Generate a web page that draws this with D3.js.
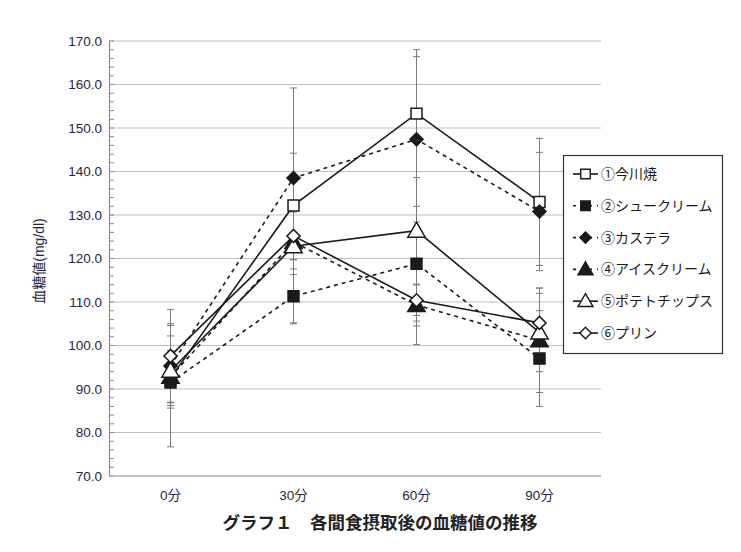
<!DOCTYPE html>
<html><head><meta charset="utf-8">
<script src="https://cdn.jsdelivr.net/npm/d3@7"></script>
<style>body{margin:0;background:#fff}svg{display:block}</style>
</head><body><div id="c"></div>
<script>
const categories = ["0分","30分","60分","90分"];
const seriesNames = ["①今川焼","②シュークリーム","③カステラ","④アイスクリーム","⑤ポテトチップス","⑥プリン"];
const imagawayaki = [92.5, 132.2, 153.3, 133.0];
const creamPuff   = [91.5, 111.3, 118.8, 97.0];
const castella    = [95.3, 138.5, 147.4, 130.8];
const iceCream    = [92.8, 123.8, 109.3, 101.2];
const potatoChips = [94.2, 122.8, 126.4, 103.0];
const pudding     = [97.6, 125.2, 110.4, 105.2];
const imagawayakiErr = [15.8, 27.0, 14.7, 14.6];
const creamPuffErr   = [4.5, 6.3, 13.2, 11.0];
const castellaErr    = [9.7, 5.7, 19.0, 13.6];
const iceCreamErr    = [6.0, 7.5, 4.8, 12.0];
const potatoChipsErr = [8.0, 3.0, 26.2, 9.0];
const puddingErr     = [7.0, 5.5, 3.5, 8.0];
const yTicks = [70,80,90,100,110,120,130,140,150,160,170];

const series = [
  {name: seriesNames[0], v: imagawayaki, e: imagawayakiErr, sym: "square", fill: "#fff", dash: null},
  {name: seriesNames[1], v: creamPuff, e: creamPuffErr, sym: "square", fill: "#1a1a1a", dash: "4,4"},
  {name: seriesNames[2], v: castella, e: castellaErr, sym: "diamond", fill: "#1a1a1a", dash: "4,4"},
  {name: seriesNames[3], v: iceCream, e: iceCreamErr, sym: "triangle", fill: "#1a1a1a", dash: "4,4"},
  {name: seriesNames[4], v: potatoChips, e: potatoChipsErr, sym: "triangle", fill: "#fff", dash: null},
  {name: seriesNames[5], v: pudding, e: puddingErr, sym: "diamond", fill: "#fff", dash: null}
];

const W = 741, H = 552;
const m = {l: 109, r: 140, t: 41, b: 76};
const svg = d3.select("#c").append("svg").attr("width", W).attr("height", H);
const font = "'Liberation Sans', Arial, 'Noto Sans CJK JP', sans-serif";
const textColor = "#1c2740";

const x = d3.scaleBand().domain(categories).range([m.l, 601]);
const y = d3.scaleLinear().domain([70,170]).range([476, 41]);
const cx = c => x(c) + x.bandwidth()/2;

// gridlines
svg.append("g").selectAll("line").data(yTicks.slice(1)).join("line")
  .attr("x1", m.l).attr("x2", 601).attr("y1", d => y(d)).attr("y2", d => y(d))
  .attr("stroke", "#c0c0c0").attr("stroke-width", 1.2);

// y axis
const yAxis = d3.axisLeft(y).tickValues(yTicks).tickFormat(d3.format(".1f")).tickSize(0).tickPadding(7);
const ga = svg.append("g").attr("transform", `translate(${m.l},0)`).call(yAxis);
ga.select(".domain").attr("stroke", "#8a8a8a").attr("stroke-width", 1.2);
ga.selectAll("text").attr("font-family", font).attr("font-size", 13.5).attr("fill", textColor);
// minor ticks
const minor = d3.range(70, 170.01, 2);
svg.append("g").selectAll("line").data(minor).join("line")
  .attr("x1", m.l).attr("x2", m.l + 5).attr("y1", d => y(d)).attr("y2", d => y(d))
  .attr("stroke", "#8a8a8a").attr("stroke-width", 1);

// x axis
svg.append("line").attr("x1", m.l).attr("x2", 601).attr("y1", 476).attr("y2", 476)
  .attr("stroke", "#b0b0b0").attr("stroke-width", 1.5);
const xAxis = d3.axisBottom(x).tickSize(0).tickPadding(14);
const gx = svg.append("g").attr("transform", "translate(0,476)").call(xAxis);
gx.select(".domain").remove();
gx.selectAll("text").attr("font-family", font).attr("font-size", 13.5).attr("fill", textColor);

// error bars
const eg = svg.append("g").attr("stroke", "#7a7a7a").attr("stroke-width", 1);
series.forEach(s => {
  categories.forEach((c, i) => {
    const xx = cx(c), hi = y(s.v[i] + s.e[i]), lo = y(s.v[i] - s.e[i]);
    eg.append("line").attr("x1", xx).attr("x2", xx).attr("y1", hi).attr("y2", lo);
    eg.append("line").attr("x1", xx-3.5).attr("x2", xx+3.5).attr("y1", hi).attr("y2", hi);
    eg.append("line").attr("x1", xx-3.5).attr("x2", xx+3.5).attr("y1", lo).attr("y2", lo);
  });
});

const symType = {square: d3.symbolSquare, diamond: d3.symbolSquare, triangle: d3.symbolTriangle};
const symSize = {square: 120, diamond: 85, triangle: 130};
const symRot = {square: 0, diamond: 45, triangle: 0};
const symDy = {square: 0, diamond: 0, triangle: 1.5};
const line = d3.line().x((d,i) => cx(categories[i])).y(d => y(d));

// lines
series.forEach(s => {
  svg.append("path").datum(s.v).attr("d", line).attr("fill", "none")
    .attr("stroke", "#1a1a1a").attr("stroke-width", 1.6)
    .attr("stroke-dasharray", s.dash);
});
// markers
series.forEach(s => {
  svg.append("g").selectAll("path").data(s.v).join("path")
    .attr("transform", (d,i) => `translate(${cx(categories[i])},${y(d) + symDy[s.sym]}) rotate(${symRot[s.sym]})`)
    .attr("d", d3.symbol().type(symType[s.sym]).size(symSize[s.sym]))
    .attr("fill", s.fill).attr("stroke", "#1a1a1a").attr("stroke-width", 1.5);
});

// y title
svg.append("text").attr("transform", "translate(44,261) rotate(-90)")
  .attr("text-anchor", "middle").attr("font-family", font).attr("font-size", 14)
  .attr("fill", textColor).text("血糖値(mg/dl)");

// chart title
svg.append("text").attr("x", 380).attr("y", 529).attr("text-anchor", "middle")
  .attr("font-family", "'Noto Sans CJK JP', sans-serif").attr("font-weight", "bold").attr("font-size", 17.5)
  .attr("fill", "#222").text("グラフ１　各間食摂取後の血糖値の推移");

// legend
const lg = svg.append("g");
lg.append("rect").attr("x", 563.5).attr("y", 155.5).attr("width", 159).attr("height", 198)
  .attr("fill", "#fff").attr("stroke", "#333").attr("stroke-width", 1.2);
series.forEach((s, i) => {
  const yy = 174 + i * 31.8;
  lg.append("line").attr("x1", 573).attr("x2", 598).attr("y1", yy).attr("y2", yy)
    .attr("stroke", "#1a1a1a").attr("stroke-width", 1.6).attr("stroke-dasharray", s.dash ? "3,5" : null);
  lg.append("path").attr("transform", `translate(585.5,${yy + (s.sym==="triangle"?1:0)}) rotate(${symRot[s.sym]})`)
    .attr("d", d3.symbol().type(symType[s.sym]).size(symSize[s.sym]*0.75))
    .attr("fill", s.fill).attr("stroke", "#1a1a1a").attr("stroke-width", 1.4);
  lg.append("text").attr("x", 601).attr("y", yy + 5).attr("font-family", "'Noto Sans CJK JP', sans-serif")
    .attr("font-size", 14).attr("fill", "#1a1a1a").text(s.name);
});
</script>
</body></html>
